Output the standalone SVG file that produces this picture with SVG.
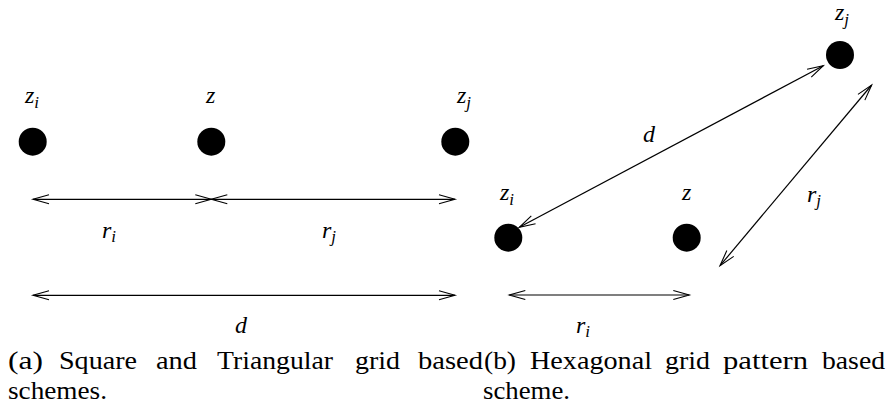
<svg xmlns="http://www.w3.org/2000/svg" width="888" height="411" viewBox="0 0 888 411">
<defs>
<marker id="ah" markerUnits="userSpaceOnUse" markerWidth="24" markerHeight="14" viewBox="-20 -7 24 14" refX="0" refY="0" orient="auto-start-reverse">
<path d="M-16,-4.5 L0,0 L-16,4.5" fill="none" stroke="#000" stroke-width="1.1"/>
</marker>
</defs>
<rect width="888" height="411" fill="#fff"/>
<g id="a-zi"><circle cx="32.7" cy="141.7" r="14"/><text font-family="Times New Roman" font-style="italic" font-size="24" x="25" y="103">z<tspan font-size="17" dy="5">i</tspan></text></g>
<g id="a-z"><circle cx="211.3" cy="141.7" r="14"/><text font-family="Times New Roman" font-style="italic" font-size="24" x="206" y="103">z</text></g>
<g id="a-zj"><circle cx="455.3" cy="141.7" r="14"/><text font-family="Times New Roman" font-style="italic" font-size="24" x="457" y="103">z<tspan font-size="17" dy="5">j</tspan></text></g>
<g id="b-zi"><circle cx="508.3" cy="237.7" r="14"/><text font-family="Times New Roman" font-style="italic" font-size="24" x="500" y="200">z<tspan font-size="17" dy="5">i</tspan></text></g>
<g id="b-z"><circle cx="686.7" cy="237.7" r="14"/><text font-family="Times New Roman" font-style="italic" font-size="24" x="682" y="200">z</text></g>
<g id="b-zj"><circle cx="840" cy="55" r="14"/><text font-family="Times New Roman" font-style="italic" font-size="24" x="835" y="20">z<tspan font-size="17" dy="5">j</tspan></text></g>
<g id="connectors" stroke="#000" stroke-width="1.2" fill="none" marker-start="url(#ah)" marker-end="url(#ah)">
<line x1="33" y1="199.3" x2="211.3" y2="199.3"/>
<line x1="211.3" y1="199.3" x2="455" y2="199.3"/>
<line x1="33" y1="295.3" x2="455" y2="295.3"/>
<line x1="519.3" y1="227.3" x2="823.3" y2="65.7"/>
<line x1="720" y1="265.7" x2="871.7" y2="85"/>
<line x1="509.3" y1="295" x2="689.3" y2="295"/>
</g>
<g id="labels">
<text font-family="Times New Roman" font-style="italic" font-size="24" x="102" y="238">r<tspan font-size="17" dy="4">i</tspan></text>
<text font-family="Times New Roman" font-style="italic" font-size="24" x="322" y="238">r<tspan font-size="17" dy="4">j</tspan></text>
<text font-family="Times New Roman" font-style="italic" font-size="24" x="235" y="333">d</text>
<text font-family="Times New Roman" font-style="italic" font-size="24" x="643" y="142">d</text>
<text font-family="Times New Roman" font-style="italic" font-size="24" x="807" y="202">r<tspan font-size="17" dy="4">j</tspan></text>
<text font-family="Times New Roman" font-style="italic" font-size="24" x="576" y="333">r<tspan font-size="17" dy="4">i</tspan></text>
</g>
<g id="caption">
<text font-family="Times New Roman" font-size="25" x="8" y="369" textLength="35" lengthAdjust="spacingAndGlyphs">(a)</text>
<text font-family="Times New Roman" font-size="25" x="59" y="369" textLength="78" lengthAdjust="spacingAndGlyphs">Square</text>
<text font-family="Times New Roman" font-size="25" x="156" y="369" textLength="41" lengthAdjust="spacingAndGlyphs">and</text>
<text font-family="Times New Roman" font-size="25" x="217" y="369" textLength="116" lengthAdjust="spacingAndGlyphs">Triangular</text>
<text font-family="Times New Roman" font-size="25" x="355" y="369" textLength="45" lengthAdjust="spacingAndGlyphs">grid</text>
<text font-family="Times New Roman" font-size="25" x="418" y="369" textLength="65" lengthAdjust="spacingAndGlyphs">based</text>
<text font-family="Times New Roman" font-size="25" x="484" y="369" textLength="32" lengthAdjust="spacingAndGlyphs">(b)</text>
<text font-family="Times New Roman" font-size="25" x="530" y="369" textLength="122" lengthAdjust="spacingAndGlyphs">Hexagonal</text>
<text font-family="Times New Roman" font-size="25" x="665" y="369" textLength="45" lengthAdjust="spacingAndGlyphs">grid</text>
<text font-family="Times New Roman" font-size="25" x="723" y="369" textLength="85" lengthAdjust="spacingAndGlyphs">pattern</text>
<text font-family="Times New Roman" font-size="25" x="822" y="369" textLength="63" lengthAdjust="spacingAndGlyphs">based</text>
<text font-family="Times New Roman" font-size="25" x="8" y="399" textLength="99" lengthAdjust="spacingAndGlyphs">schemes.</text>
<text font-family="Times New Roman" font-size="25" x="483" y="399" textLength="87" lengthAdjust="spacingAndGlyphs">scheme.</text>
</g>
</svg>
